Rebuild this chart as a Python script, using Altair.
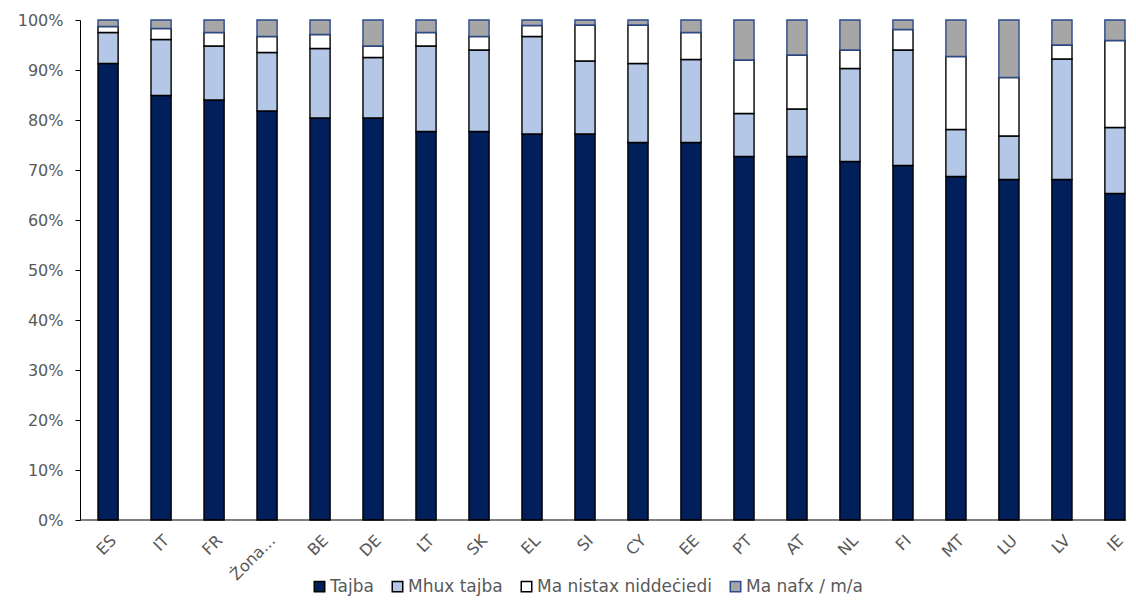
import altair as alt
import pandas as pd

countries = ["ES", "IT", "FR", "Żona...", "BE", "DE", "LT", "SK", "EL", "SI",
             "CY", "EE", "PT", "AT", "NL", "FI", "MT", "LU", "LV", "IE"]
series = ["Tajba", "Mhux tajba", "Ma nistax niddeċiedi", "Ma nafx / m/a"]

tajba =      [91.3, 84.9, 84.0, 81.8, 80.4, 80.4, 77.7, 77.7, 77.2, 77.2,
              75.5, 75.5, 72.7, 72.7, 71.7, 70.9, 68.7, 68.1, 68.1, 65.3]
mhux_tajba = [6.2, 11.2, 10.8, 11.7, 13.9, 12.1, 17.1, 16.3, 19.5, 14.6,
              15.8, 16.6, 8.6, 9.5, 18.6, 23.1, 9.4, 8.7, 24.1, 13.2]
ma_nistax =  [1.2, 2.2, 2.7, 3.2, 2.8, 2.3, 2.7, 2.7, 2.2, 7.2,
              7.7, 5.4, 10.7, 10.8, 3.7, 4.1, 14.6, 11.7, 2.8, 17.4]
ma_nafx =    [1.3, 1.7, 2.5, 3.3, 2.9, 5.2, 2.5, 3.3, 1.1, 1.0,
              1.0, 2.5, 8.0, 7.0, 6.0, 1.9, 7.3, 11.5, 5.0, 4.1]

fills = ["#001F5B", "#B4C7E7", "#FFFFFF", "#A6A6A6"]
strokes = ["#000000", "#000000", "#000000", "#2A4A8C"]

rows = []
for i, c in enumerate(countries):
    for j, (s, vals) in enumerate(zip(series, [tajba, mhux_tajba, ma_nistax, ma_nafx])):
        rows.append({"country": c, "series": s, "idx": j, "value": vals[i] / 100.0})
df = pd.DataFrame(rows)

W, H = 1046, 500
FONT = "DejaVu Sans"
GRAY = "#595959"

legend = alt.Legend(
    title=None, orient="none", direction="horizontal", legendX=231, legendY=558,
    symbolType="square", symbolSize=110, symbolStrokeWidth=1.5,
    labelFont=FONT, labelFontSize=17, labelColor=GRAY, labelOffset=2,
    columnPadding=15, labelLimit=400,
)

bars = alt.Chart(df).mark_bar(strokeWidth=1.4).encode(
    x=alt.X("country:N", sort=countries,
            scale=alt.Scale(range=[18, 1045], paddingInner=0.62, paddingOuter=0),
            axis=alt.Axis(title=None, labelAngle=-45, ticks=False, domain=False, grid=False,
                          labelFont=FONT, labelFontSize=16, labelColor=GRAY,
                          labelPadding=12)),
    y=alt.Y("value:Q", stack="zero",
            scale=alt.Scale(domain=[0, 1], nice=False),
            axis=alt.Axis(title=None, format=".0%", values=[i / 10 for i in range(11)],
                          grid=False, domainColor="black", domainWidth=1,
                          tickColor="black", tickSize=5, labelPadding=12,
                          labelFont=FONT, labelFontSize=16, labelColor=GRAY)),
    fill=alt.Fill("series:N", sort=series,
                  scale=alt.Scale(domain=series, range=fills), legend=legend),
    stroke=alt.Stroke("series:N", sort=series,
                      scale=alt.Scale(domain=series, range=strokes), legend=legend),
    order=alt.Order("idx:Q", sort="ascending"),
)

baseline = alt.Chart(alt.Data(values=[{"v": 0}])).mark_rule(color="black", strokeWidth=1.2).encode(
    y=alt.Y("v:Q"), x=alt.value(0), x2=alt.value(W)
)

chart = alt.layer(bars, baseline).properties(
    width=W, height=H,
    autosize=alt.AutoSizeParams(type="none"),
    padding={"left": 72, "top": 12, "right": 0, "bottom": 80},
    view=alt.ViewBackground(stroke="transparent", strokeWidth=0),
).configure_axis(
    grid=False
).configure(background="white")

chart.save("out.html", embed_options={"renderer": "svg", "actions": False})
